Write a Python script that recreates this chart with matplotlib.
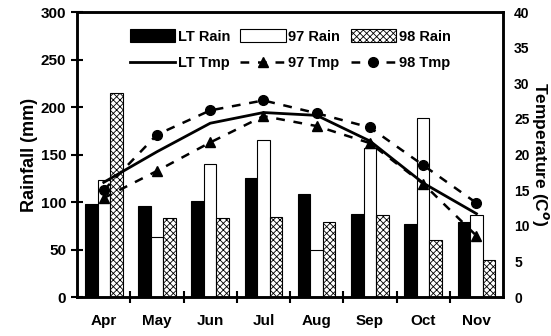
import numpy as np
import matplotlib.pyplot as plt
from matplotlib.lines import Line2D

plt.rcParams['font.family'] = ['Liberation Sans', 'DejaVu Sans']
plt.rcParams['font.weight'] = 'bold'
plt.rcParams['hatch.linewidth'] = 0.6

months = ['Apr', 'May', 'Jun', 'Jul', 'Aug', 'Sep', 'Oct', 'Nov']

lt_rain = [98, 96, 101, 125, 108, 87, 77, 79]
rain_97 = [123, 63, 140, 165, 50, 157, 188, 86]
rain_98 = [215, 83, 83, 84, 79, 86, 60, 39]

lt_tmp = [16.1, 20.4, 24.4, 25.9, 25.5, 21.9, 16.0, 11.7]
tmp_97 = [13.9, 17.7, 21.7, 25.4, 24.0, 21.6, 15.9, 8.6]
tmp_98 = [15.0, 22.8, 26.2, 27.6, 25.8, 23.8, 18.5, 13.2]

x = np.arange(len(months))
w = 0.235
dash = (0, (3.5, 3.5))

fig, ax = plt.subplots(figsize=(5.51, 3.36), dpi=100)
fig.subplots_adjust(left=0.14, right=0.913, top=0.964, bottom=0.116)

b1 = ax.bar(x - w, lt_rain, w, color='black', edgecolor='black', lw=0.8)
b2 = ax.bar(x, rain_97, w, color='white', edgecolor='black', lw=0.8)
b3 = ax.bar(x + w, rain_98, w, color='white', edgecolor='black', lw=0.8, hatch='xxxxx')

ax.set_xlim(-0.5, 7.5)
ax.set_ylim(0, 300)
ax.set_yticks(range(0, 301, 50))
ax.set_xticks(x)
ax.set_xticklabels(months)
ax.tick_params(axis='x', length=0, pad=12, labelsize=11)
ax.set_xticks(np.arange(0.5, 7.5, 1), minor=True)
ax.tick_params(axis='x', which='minor', direction='inout', length=9, width=1.5)
ax.tick_params(axis='y', direction='inout', length=9, width=1.5, labelsize=11)
ax.set_ylabel('Rainfall (mm)', fontsize=13, fontweight='bold', labelpad=2)
for s in ax.spines.values():
    s.set_linewidth(1.8)

ax2 = ax.twinx()
ax2.plot(x, lt_tmp, color='black', lw=2)
ax2.plot(x, tmp_97, color='black', lw=1.8, ls=dash, marker='^', ms=7)
ax2.plot(x, tmp_98, color='black', lw=1.8, ls=dash, marker='o', ms=7)
ax2.set_ylim(0, 40)
ax2.set_yticks(range(0, 41, 5))
ax2.tick_params(axis='y', length=0, pad=8, labelsize=10)
ax2.set_ylabel('Temperature (C$^o$)', fontsize=12.5, fontweight='bold', rotation=270, labelpad=15)
for s in ax2.spines.values():
    s.set_linewidth(1.8)

handles = [b1, b2, b3,
           Line2D([], [], color='black', lw=2),
           Line2D([], [], color='black', lw=1.8, ls=dash, marker='^', ms=7),
           Line2D([], [], color='black', lw=1.8, ls=dash, marker='o', ms=7)]
labels = ['LT Rain', '97 Rain', '98 Rain', 'LT Tmp', '97 Tmp', '98 Tmp']
# columns fill first, so interleave rows
order = [0, 3, 1, 4, 2, 5]
ax.legend([handles[i] for i in order], [labels[i] for i in order], ncol=3,
          loc='upper center', bbox_to_anchor=(0.5, 0.985), frameon=False,
          handlelength=3.1, handleheight=0.9, columnspacing=0.7, handletextpad=0.2,
          labelspacing=0.85, prop={'size': 10.5, 'weight': 'bold'})

plt.savefig('out.png', dpi=100)
